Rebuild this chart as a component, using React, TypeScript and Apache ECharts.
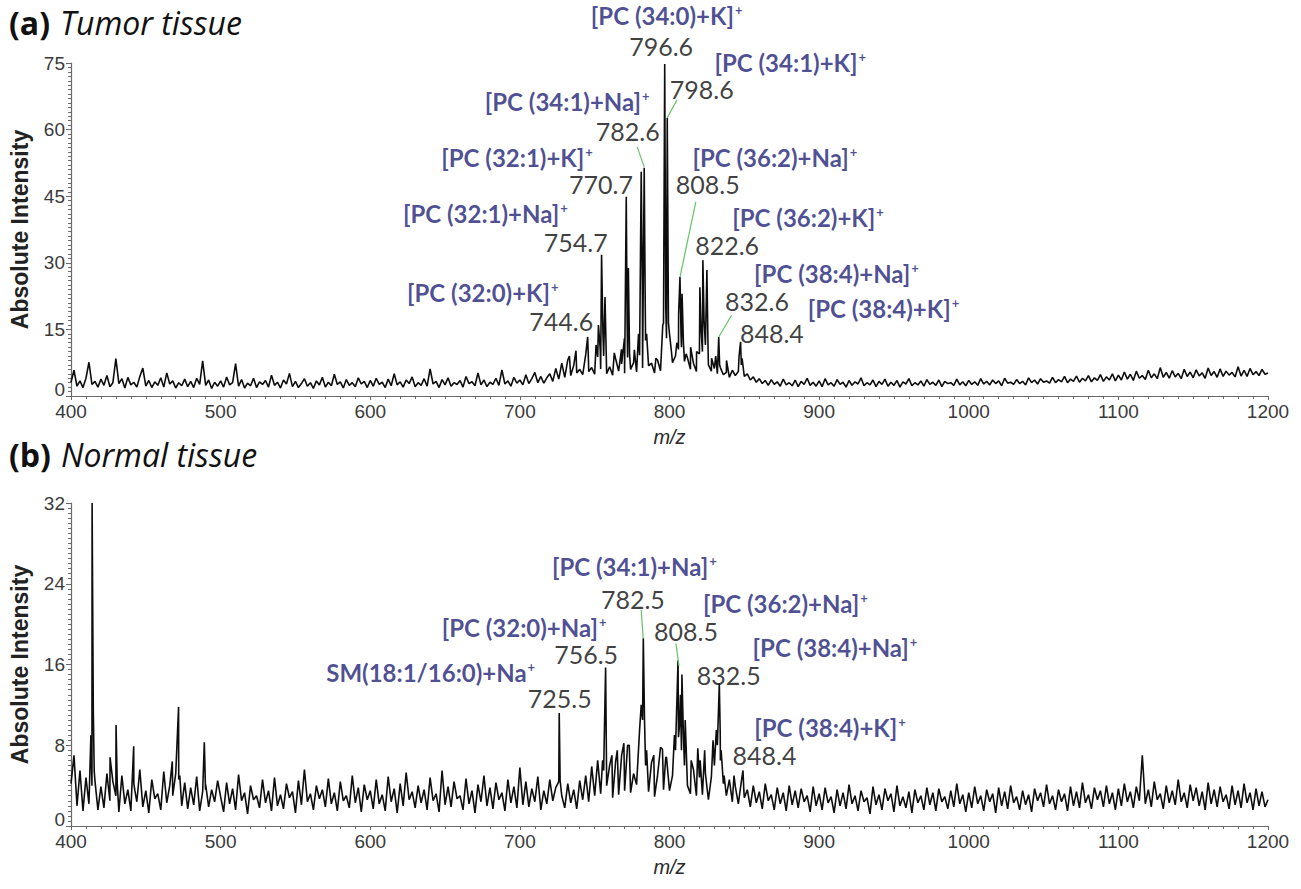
import React, { useEffect, useRef } from "react";
import * as echarts from "echarts";

// ---------- axis settings ----------
const MZ_MIN = 400;
const MZ_MAX = 1200;
const MZ_STEP = 2;
const TUMOR_Y_MAX = 75;
const TUMOR_Y_STEP = 15;
const NORMAL_Y_MAX = 32;
const NORMAL_Y_STEP = 8;

// ---------- (a) tumor tissue: baseline readings every 2 m/z ----------
const tumor400 = [3.1, 5.8, 2.2, 3.4, 1.9, 4.0, 7.6, 2.6, 3.3, 2.0, 3.8, 2.4, 4.6, 2.1, 3.0, 8.4, 2.8, 3.9, 1.8, 4.2, 2.5, 3.1, 2.0, 4.4, 6.3, 2.2, 3.5, 1.9, 3.2, 2.4, 4.1, 2.0, 5.2, 2.7, 3.4, 1.8, 3.0, 2.3, 3.8, 2.1, 3.3, 1.9, 4.0, 2.6, 7.9, 2.4, 3.6, 1.7, 3.1, 2.2];
const tumor500 = [3.4, 2.0, 4.3, 2.5, 3.0, 7.3, 2.2, 3.7, 1.8, 2.9, 2.3, 4.0, 1.9, 3.2, 2.6, 3.5, 2.0, 4.7, 2.4, 3.1, 1.8, 3.6, 2.7, 5.1, 2.1, 3.3, 1.9, 2.8, 3.9, 2.2, 3.0, 1.7, 3.4, 2.5, 4.2, 2.0, 3.1, 2.3, 4.9, 2.6, 3.2, 1.8, 3.7, 2.4, 3.0, 2.1, 4.1, 2.7, 3.3, 1.9];
const tumor600 = [3.5, 2.2, 4.0, 2.6, 3.1, 1.9, 3.8, 2.3, 5.0, 2.5, 3.2, 2.0, 3.6, 2.8, 4.3, 2.1, 3.0, 2.4, 3.9, 2.2, 6.1, 2.7, 3.3, 1.9, 3.7, 2.5, 4.1, 2.2, 3.0, 2.6, 3.5, 2.0, 4.4, 2.8, 3.2, 2.3, 5.2, 2.5, 3.6, 2.1, 3.1, 2.6, 4.0, 2.4, 5.9, 2.7, 3.4, 2.2, 4.2, 2.9];
const tumor700 = [3.6, 2.5, 4.8, 2.8, 3.9, 5.3, 3.0, 4.4, 2.9, 4.1, 5.0, 3.3, 6.2, 3.8, 7.4, 4.2, 8.1, 4.6, 6.9, 5.2, 6.0, 4.8, 9.3, 5.5, 6.4, 4.9, 8.8, 6.1, 9.0, 5.0, 6.6, 4.7, 8.4, 5.6, 7.2, 5.1, 8.7, 6.0, 7.5, 5.4, 9.2, 6.3, 12.5, 6.8, 7.4, 5.2, 8.1, 5.7, 16.4, 13.0];
const tumor800 = [14.0, 7.5, 9.0, 10.5, 11.0, 7.8, 8.6, 6.0, 7.4, 5.5, 9.5, 10.0, 11.5, 7.0, 5.6, 6.2, 5.0, 6.4, 4.8, 5.3, 4.2, 5.8, 4.6, 5.5, 7.0, 4.4, 5.0, 3.6, 4.3, 3.1, 3.9, 2.8, 3.5, 2.4, 3.7, 2.6, 3.2, 2.2, 3.8, 2.5, 3.0, 2.3, 3.6, 2.1, 3.3, 2.6, 4.0, 2.4, 3.1, 2.2];
const tumor900 = [3.4, 2.1, 3.9, 2.5, 3.0, 2.2, 3.7, 2.6, 3.1, 2.0, 3.5, 2.4, 3.2, 2.7, 4.1, 2.3, 3.0, 2.5, 3.6, 2.1, 3.3, 2.6, 3.8, 2.2, 3.1, 2.4, 3.5, 2.0, 3.2, 2.7, 3.9, 2.3, 3.0, 2.5, 3.4, 2.2, 3.7, 2.6, 3.1, 2.4, 3.6, 2.1, 3.3, 2.8, 3.0, 2.4, 3.8, 2.5, 3.2, 2.3];
const tumor1000 = [3.5, 2.6, 3.2, 2.4, 3.9, 2.7, 3.3, 2.5, 3.6, 2.8, 3.4, 2.3, 4.0, 2.9, 3.1, 2.6, 3.7, 2.8, 3.3, 2.5, 4.1, 3.0, 3.6, 2.7, 3.9, 3.1, 3.4, 2.9, 4.2, 3.0, 3.7, 3.2, 4.4, 3.0, 3.8, 3.3, 4.5, 3.1, 4.0, 3.4, 4.6, 3.2, 4.1, 3.5, 4.8, 3.3, 4.3, 3.6, 5.0, 3.4];
const tumor1100 = [4.7, 3.6, 5.4, 3.8, 4.9, 3.5, 5.6, 4.0, 4.6, 3.7, 5.8, 4.1, 5.0, 3.9, 6.4, 4.2, 5.3, 4.0, 5.7, 4.3, 5.1, 3.9, 6.0, 4.4, 5.4, 4.1, 5.9, 4.5, 5.2, 4.0, 6.3, 4.6, 5.5, 4.2, 6.1, 4.4, 5.6, 4.7, 5.3, 4.3, 6.6, 4.5, 5.8, 4.4, 6.2, 4.8, 5.5, 4.6, 6.0, 4.9];
const tumorAt1200 = 5.2;

// (a) peaks: [m/z, intensity]
const tumorPeaks: [number, number][] = [
  [733.1, 9.0], [737.5, 10.2], [745.3, 13.3], [745.9, 7.2], [750.9, 11.5], [752.5, 16.0], [753.7, 10.5],
  [754.6, 31.8], [755.5, 14.5], [756.9, 22.3], [757.7, 9.8], [763.1, 9.7], [767.9, 10.5], [769.9, 13.0],
  [771.1, 44.9], [771.7, 16.0], [772.5, 28.8], [773.3, 9.5], [776.5, 10.4], [779.3, 14.0], [781.1, 50.5],
  [781.9, 22.0], [783.1, 51.4], [783.7, 24.0], [784.7, 14.0], [790.9, 8.5], [795.5, 16.0], [796.8, 74.8],
  [797.5, 20.0], [798.5, 62.6], [799.3, 16.5], [801.3, 10.0], [804.9, 12.0], [806.1, 18.5], [807.0, 26.8],
  [807.7, 14.0], [808.4, 23.0], [809.3, 12.0], [811.1, 9.5], [814.1, 11.0], [818.1, 10.0], [820.3, 24.5],
  [821.1, 15.0], [822.3, 30.6], [823.1, 17.0], [825.0, 28.4], [825.7, 12.0], [828.1, 8.5], [830.9, 9.0],
  [832.9, 13.3], [833.5, 7.0], [838.1, 8.0], [846.5, 9.0], [847.5, 12.2], [848.5, 8.5],
];

const tumorNames = ["[PC (34:0)+K]", "[PC (34:1)+K]", "[PC (34:1)+Na]", "[PC (32:1)+K]", "[PC (36:2)+Na]", "[PC (32:1)+Na]", "[PC (36:2)+K]", "[PC (32:0)+K]", "[PC (38:4)+Na]", "[PC (38:4)+K]"];
const tumorMasses = ["796.6", "798.6", "782.6", "770.7", "808.5", "754.7", "822.6", "744.6", "832.6", "848.4"];
// label placement in data units: [name m/z, name y, mass m/z, mass y]
const tumorLabelAt: [number, number, number, number][] = [
  [798.1, 85.6, 794.4, 78.8], [880.7, 75.2, 821.6, 69.1], [731.6, 66.4, 772.1, 59.7], [698.1, 53.8, 754.2, 47.7],
  [870.4, 53.7, 825.6, 47.7], [676.9, 41.2, 737.3, 34.6], [892.6, 40.3, 838.5, 34.0], [675.2, 23.2, 727.7, 16.9],
  [911.6, 27.7, 858.5, 21.4], [943.0, 19.8, 868.4, 14.2],
];
// leader lines: [from m/z, from y, to m/z, to y]
const tumorLeaders: [number, number, number, number][] = [
  [805.0, 66.7, 798.4, 62.6], [778.4, 56.1, 783.1, 51.6], [817.6, 43.7, 807.0, 26.8], [841.5, 18.2, 832.9, 13.3],
];

// ---------- (b) normal tissue ----------
const normal400 = [4.2, 7.0, 2.0, 5.5, 1.5, 4.8, 2.2, 4.0, 4.5, 1.6, 3.9, 1.8, 5.2, 2.5, 4.4, 3.0, 1.4, 5.0, 2.2, 3.6, 1.5, 4.2, 2.4, 5.6, 1.9, 3.5, 1.3, 4.6, 2.7, 3.2, 1.6, 5.4, 2.3, 4.0, 3.0, 5.2, 4.6, 2.0, 4.3, 1.7, 3.8, 2.1, 4.9, 1.5, 3.4, 4.1, 1.9, 3.6, 2.4, 4.5];
const normal500 = [2.9, 1.4, 4.3, 2.2, 3.7, 1.6, 5.1, 2.5, 3.3, 1.2, 4.0, 2.6, 3.0, 1.8, 4.6, 2.3, 3.5, 1.5, 4.8, 2.0, 3.1, 1.7, 4.2, 2.8, 3.4, 1.3, 4.5, 2.1, 5.6, 2.4, 3.2, 1.6, 4.0, 2.7, 3.6, 1.9, 4.7, 2.2, 3.3, 1.5, 4.4, 2.5, 3.0, 1.8, 5.0, 2.3, 3.8, 1.4, 4.1, 2.6];
const normal600 = [3.5, 1.7, 4.6, 2.2, 3.1, 1.5, 4.9, 2.4, 3.7, 1.3, 4.2, 2.0, 5.3, 2.6, 3.4, 1.8, 4.0, 2.3, 3.6, 1.6, 4.8, 2.5, 3.2, 1.4, 5.5, 2.1, 3.9, 1.9, 4.4, 2.7, 3.0, 1.6, 4.7, 2.2, 3.5, 1.3, 4.1, 2.4, 5.0, 2.0, 3.8, 1.7, 4.3, 2.6, 3.3, 1.5, 4.6, 2.3, 3.9, 1.8];
const normal700 = [5.8, 2.1, 4.4, 1.9, 3.7, 2.4, 4.9, 1.6, 3.5, 2.2, 4.6, 2.5, 3.8, 4.4, 3.0, 1.8, 4.2, 2.3, 3.6, 1.7, 4.5, 2.6, 5.0, 2.4, 5.9, 3.0, 6.5, 3.2, 5.5, 4.0, 6.0, 2.8, 6.4, 3.1, 7.0, 3.5, 8.0, 3.3, 5.2, 4.1, 9.5, 10.5, 6.0, 3.4, 6.3, 2.9, 5.0, 7.8, 3.6, 6.8];
const normal800 = [3.5, 5.0, 7.5, 8.8, 7.5, 6.0, 4.0, 3.2, 5.6, 3.0, 4.8, 3.1, 5.2, 2.6, 4.9, 6.0, 8.0, 6.5, 4.2, 3.0, 4.6, 2.4, 3.9, 2.2, 4.4, 2.8, 3.6, 1.9, 4.0, 2.3, 3.4, 1.7, 4.2, 2.5, 3.1, 1.6, 3.8, 2.2, 3.3, 1.5, 4.0, 2.1, 3.5, 1.8, 3.7, 2.4, 3.0, 1.4, 3.9, 2.0];
const normal900 = [3.2, 1.6, 3.8, 2.3, 2.9, 1.3, 3.6, 2.0, 3.3, 1.7, 4.1, 2.2, 3.0, 1.5, 3.5, 2.4, 2.8, 1.2, 3.9, 2.1, 3.1, 1.6, 3.7, 2.5, 3.2, 1.4, 4.0, 2.0, 2.9, 1.8, 3.4, 1.3, 3.6, 2.3, 3.0, 1.6, 3.8, 2.1, 3.3, 1.5, 3.7, 2.4, 2.9, 1.7, 3.5, 1.9, 4.2, 2.2, 3.1, 1.4];
const normal1000 = [3.3, 1.8, 3.9, 2.2, 3.0, 1.5, 3.6, 2.4, 3.2, 1.3, 3.8, 2.0, 3.4, 1.7, 4.0, 2.3, 2.9, 1.6, 3.5, 2.1, 3.1, 1.4, 3.7, 2.5, 3.3, 1.9, 4.1, 2.2, 3.0, 1.6, 3.6, 2.4, 3.2, 1.5, 3.9, 2.0, 3.4, 1.8, 4.3, 2.3, 3.1, 1.7, 3.8, 2.6, 3.5, 1.9, 4.0, 2.2, 3.3, 1.6];
const normal1100 = [3.7, 2.0, 4.2, 2.4, 3.4, 1.8, 3.9, 2.5, 7.0, 2.2, 3.6, 1.9, 4.4, 2.6, 3.2, 1.7, 4.0, 2.3, 3.5, 2.1, 4.6, 2.4, 3.3, 1.8, 4.1, 2.5, 3.8, 2.0, 3.4, 1.6, 4.3, 2.2, 3.6, 1.9, 3.9, 2.4, 3.1, 1.7, 4.0, 2.1, 3.5, 1.8, 4.2, 2.3, 3.3, 1.6, 3.7, 2.0, 3.4, 1.9];
const normalAt1200 = 2.6;

const normalPeaks: [number, number][] = [
  [413.3, 9.0], [414.1, 32.0], [414.9, 11.5], [415.5, 5.5], [426.1, 6.8], [430.1, 10.0], [430.9, 4.2],
  [441.9, 7.9], [442.7, 3.5], [467.7, 6.4], [471.9, 11.8], [472.7, 5.0], [489.1, 8.3], [489.9, 3.6],
  [726.3, 11.2], [726.9, 4.5], [755.3, 6.5], [757.3, 15.7], [757.9, 6.0], [761.5, 7.0], [765.1, 7.5],
  [769.5, 8.2], [773.1, 8.0], [781.1, 12.0], [782.5, 18.6], [783.3, 10.5], [784.7, 7.5], [789.5, 7.0],
  [795.3, 7.6], [797.5, 6.8], [803.3, 9.0], [805.7, 16.4], [806.7, 10.0], [807.3, 13.0], [808.3, 15.0],
  [809.3, 9.0], [810.5, 10.5], [814.5, 6.5], [818.9, 7.7], [820.5, 6.5], [823.5, 7.5], [829.1, 8.5],
  [831.3, 9.5], [833.3, 14.1], [833.9, 9.2], [834.5, 7.5], [836.5, 5.0], [843.1, 5.0], [849.1, 5.5], [849.7, 3.5],
];

const normalNames = ["[PC (34:1)+Na]", "[PC (36:2)+Na]", "[PC (32:0)+Na]", "[PC (38:4)+Na]", "SM(18:1/16:0)+Na", "[PC (38:4)+K]"];
const normalMasses = ["782.5", "808.5", "756.5", "832.5", "725.5", "848.4"];
const normalLabelAt: [number, number, number, number][] = [
  [776.5, 25.7, 775.5, 22.5], [877.4, 22.0, 811.0, 19.3], [702.8, 19.7, 744.3, 17.0],
  [910.6, 17.7, 839.6, 15.0], [640.4, 15.2, 726.7, 12.7], [907.3, 9.8, 863.5, 7.0],
];
const normalLeaders: [number, number, number, number][] = [
  [781.1, 21.4, 782.4, 18.6], [804.3, 18.1, 806.3, 15.9],
];

// ---------- styles ----------
const BLUE = "#1f1f78";
const INK = "#0d0d0d";
const LEADER = "#66c266";
const AXIS_GREY = "#6a6a6a";
const TICK_TXT = "#3a3a3a";

function spectrum(rows: number[][], last: number, peaks: [number, number][]) {
  const pts: [number, number][] = [];
  rows.forEach((row, r) => row.forEach((v, i) => pts.push([MZ_MIN + r * 100 + i * MZ_STEP, v])));
  pts.push([MZ_MAX, last]);
  peaks.forEach((p) => pts.push([p[0], p[1]]));
  pts.sort((a, b) => a[0] - b[0]);
  return pts;
}

const nameRich = {
  n: { fontFamily: "Lato", fontWeight: "bold", fontSize: 24, color: BLUE, lineHeight: 26 },
  s: { fontFamily: "Lato", fontWeight: "bold", fontSize: 13, color: BLUE, verticalAlign: "top", lineHeight: 13, padding: [1, 0, 0, 1] },
};

function labelSeries(idx: number, names: string[], masses: string[], at: [number, number, number, number][]) {
  const data: any[] = [];
  names.forEach((nm, i) => {
    data.push({
      value: [at[i][0], at[i][1]],
      label: { show: true, position: "inside", formatter: `{n|${nm}}{s|+}`, rich: nameRich },
    });
    data.push({
      value: [at[i][2], at[i][3]],
      label: {
        show: true, position: "inside", formatter: masses[i],
        fontFamily: "Lato", fontSize: 25, color: INK,
      },
    });
  });
  return {
    type: "scatter", xAxisIndex: idx, yAxisIndex: idx, symbolSize: 0, clip: false, z: 5,
    silent: true, data,
  };
}

function leaderSeries(idx: number, leaders: [number, number, number, number][]) {
  return {
    type: "lines", coordinateSystem: "cartesian2d", xAxisIndex: idx, yAxisIndex: idx, z: 4,
    silent: true,
    lineStyle: { color: LEADER, width: 1.2, opacity: 1 },
    data: leaders.map((l) => ({ coords: [[l[0], l[1]], [l[2], l[3]]] })),
  };
}

function xAxisCfg(idx: number, nameGap: number) {
  return {
    type: "value", gridIndex: idx, min: MZ_MIN, max: MZ_MAX, interval: 100,
    axisLine: { show: true, lineStyle: { color: AXIS_GREY, width: 1.2 } },
    axisTick: { show: true, length: 4, lineStyle: { color: AXIS_GREY } },
    minorTick: { show: true, splitNumber: 10, length: 3, lineStyle: { color: AXIS_GREY } },
    splitLine: { show: false },
    axisLabel: {
      fontFamily: "Liberation Sans", fontSize: 19, color: TICK_TXT, margin: 6,
      formatter: (v: number) => String(v),
    },
    name: "m/z", nameLocation: "middle", nameGap,
    nameTextStyle: { fontFamily: "Liberation Sans", fontStyle: "italic", fontSize: 20, color: "#2a2a2a" },
  };
}

function yAxisCfg(idx: number, max: number, step: number, minorSplit: number) {
  return {
    type: "value", gridIndex: idx, min: 0, max, interval: step,
    axisLine: { show: true, lineStyle: { color: AXIS_GREY, width: 1.2 } },
    axisTick: { show: true, length: 5, lineStyle: { color: AXIS_GREY } },
    minorTick: { show: true, splitNumber: minorSplit, length: 3, lineStyle: { color: AXIS_GREY } },
    splitLine: { show: false },
    axisLabel: {
      fontFamily: "Liberation Sans", fontSize: 19, color: TICK_TXT, margin: 6,
      formatter: (v: number) => (v === 0 ? "{z|0}" : String(v)),
      rich: { z: { fontFamily: "Liberation Sans", fontSize: 19, color: TICK_TXT, padding: [0, 0, 14, 0] } },
    },
    name: "Absolute Intensity", nameLocation: "middle", nameGap: 40,
    nameTextStyle: { fontFamily: "Liberation Sans", fontWeight: "bold", fontSize: 23, color: "#222" },
  };
}

const titleRich = {
  b: { fontFamily: "Open Sans", fontWeight: "bold", fontSize: 32, color: "#111" },
  i: { fontFamily: "Open Sans", fontStyle: "italic", fontWeight: "normal", fontSize: 32, color: "#111", padding: [0, 0, 0, 10] },
};

export default function App() {
  const ref = useRef<HTMLDivElement>(null);
  useEffect(() => {
    if (!ref.current) return;
    const chart = echarts.init(ref.current, null, { renderer: "svg" });
    const tumor = spectrum([tumor400, tumor500, tumor600, tumor700, tumor800, tumor900, tumor1000, tumor1100], tumorAt1200, tumorPeaks);
    const normal = spectrum([normal400, normal500, normal600, normal700, normal800, normal900, normal1000, normal1100], normalAt1200, normalPeaks);
    chart.setOption({
      animation: false,
      backgroundColor: "#ffffff",
      title: [
        { text: "{b|(a)}{i|Tumor tissue}", left: 9, top: 6, padding: 0, textStyle: { fontWeight: "normal", rich: titleRich } },
        { text: "{b|(b)}{i|Normal tissue}", left: 9, top: 438, padding: 0, textStyle: { fontWeight: "normal", rich: titleRich } },
      ],
      grid: [
        { left: 63, right: 33, top: 63, height: 333 },
        { left: 63, right: 33, top: 503, height: 323 },
      ],
      xAxis: [xAxisCfg(0, 31), xAxisCfg(1, 31)],
      yAxis: [yAxisCfg(0, TUMOR_Y_MAX, TUMOR_Y_STEP, 15), yAxisCfg(1, NORMAL_Y_MAX, NORMAL_Y_STEP, 16)],
      series: [
        {
          type: "line", xAxisIndex: 0, yAxisIndex: 0, data: tumor, symbol: "none", z: 3,
          lineStyle: { color: INK, width: 1.6 }, silent: true,
        },
        {
          type: "line", xAxisIndex: 1, yAxisIndex: 1, data: normal, symbol: "none", z: 3,
          lineStyle: { color: INK, width: 1.6 }, silent: true,
        },
        leaderSeries(0, tumorLeaders),
        leaderSeries(1, normalLeaders),
        labelSeries(0, tumorNames, tumorMasses, tumorLabelAt),
        labelSeries(1, normalNames, normalMasses, normalLabelAt),
      ],
    });
    return () => chart.dispose();
  }, []);
  return (
    <div
      ref={ref}
      style={{ position: "absolute", left: 0, top: 0, width: 1301, height: 889, background: "#fff" }}
    />
  );
}
